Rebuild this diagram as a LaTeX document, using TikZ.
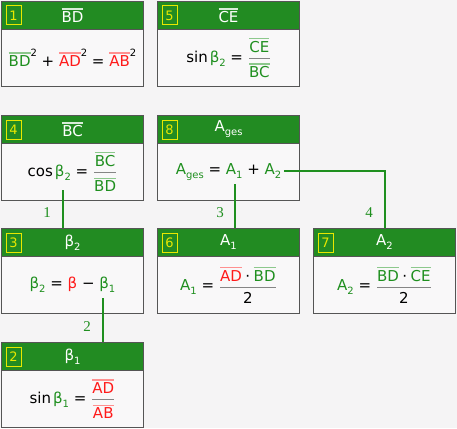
\documentclass[tikz,border=0pt]{standalone}
\usepackage{fontspec}
\setmainfont{DejaVu Sans}
\newfontfamily\lblfont{Liberation Serif}
\usetikzlibrary{calc}
\definecolor{bgc}{HTML}{F5F4F5}
\definecolor{bodyc}{HTML}{F9F8F9}
\definecolor{bord}{HTML}{555555}
\definecolor{hdrg}{HTML}{228B22}
\definecolor{g}{HTML}{1F8F1F}
\definecolor{r}{HTML}{FF1A1A}
\definecolor{lg}{HTML}{8CC88C}
\definecolor{lr}{HTML}{FF9090}
\definecolor{hl}{HTML}{D8ECD8}
\definecolor{barc}{HTML}{858585}
\definecolor{numc}{HTML}{E8E800}
\newcommand\ovl[2]{\begingroup\setbox0=\hbox{#2}\rlap{\textcolor{#1}{\rule[\dimexpr\ht0+2pt\relax]{\wd0}{1.4pt}}}\box0\endgroup}
\newcommand\G[1]{\ovl{lg}{\textcolor{g}{#1}}}
\newcommand\R[1]{\ovl{lr}{\textcolor{r}{#1}}}
\newcommand\sbs[1]{\raisebox{-4pt}{\fontsize{10}{10}\selectfont #1}}
\newcommand\sps[1]{\raisebox{10pt}{\fontsize{10}{10}\selectfont #1}}
\newcommand\frc[2]{\textcolor{barc}{$\displaystyle{\mbox{#1}\above1.4pt\mbox{#2}}$}}
\tikzset{
  hdrbox/.style={draw=bord, fill=hdrg, line width=1pt, minimum width=142pt, minimum height=28pt,
    anchor=north west, inner sep=0pt, text=white, font=\fontsize{15}{18}\selectfont},
  bodybox/.style={draw=bord, fill=bodyc, line width=1pt, minimum width=142pt, minimum height=57pt,
    anchor=north west, inner sep=0pt, text=black, font=\fontsize{15}{18}\selectfont},
  numbox/.style={draw=numc, line width=1pt, minimum width=15pt, minimum height=19pt, inner sep=0pt,
    text=numc, font=\fontsize{13}{13}\selectfont},
  conn/.style={draw=g, line width=2pt},
  lbl/.style={text=g, font=\lblfont\fontsize{15}{15}\selectfont, inner sep=0pt},
}
\newcommand\mkbox[5]{%
  \node[hdrbox] (h#1) at (#2,#3) {#4};
  \node[bodybox] (b#1) at (#2,#3+28) {#5};
  \node[numbox] (n#1) at ($(h#1.west)+(12.5,0)$) {#1};
}
\begin{document}
\begin{tikzpicture}[x=1pt,y=-1pt]
\fill[bgc] (0,0) rectangle (457,428);
\useasboundingbox (0,0) rectangle (457,428);
\mkbox{1}{1}{1}{\ovl{hl}{BD}}{\G{BD}\sps{2} + \R{AD}\sps{2} = \R{AB}\sps{2}}
\mkbox{5}{157}{1}{\ovl{hl}{CE}}{sin\hspace{2pt}\textcolor{g}{β\sbs{2}} = \frc{\G{CE}}{\G{BC}}}
\mkbox{4}{1}{115}{\ovl{hl}{BC}}{cos\hspace{2pt}\textcolor{g}{β\sbs{2}} = \frc{\G{BC}}{\G{BD}}}
\mkbox{8}{157}{115}{A\sbs{ges}}{\textcolor{g}{A\sbs{ges}} = \textcolor{g}{A\sbs{1}} + \textcolor{g}{A\sbs{2}}}
\mkbox{3}{1}{228}{β\sbs{2}}{\textcolor{g}{β\sbs{2}} = \textcolor{r}{β} − \textcolor{g}{β\sbs{1}}}
\mkbox{6}{157}{228}{A\sbs{1}}{\textcolor{g}{A\sbs{1}} = \frc{\R{AD}\hspace{3.5pt}\textcolor{black}{·}\hspace{3.5pt}\G{BD}}{\textcolor{black}{2}}}
\mkbox{7}{313}{228}{A\sbs{2}}{\textcolor{g}{A\sbs{2}} = \frc{\G{BD}\hspace{3.5pt}\textcolor{black}{·}\hspace{3.5pt}\G{CE}}{\textcolor{black}{2}}}
\mkbox{2}{1}{342}{β\sbs{1}}{sin\hspace{2pt}\textcolor{g}{β\sbs{1}} = \frc{\R{AD}}{\R{AB}}}
\coordinate (c1) at (63,190);
\coordinate (c2) at (103,298);
\coordinate (c3) at (235,184);
\coordinate (c4) at (284,171);
\draw[conn] (c1) -- (c1 |- h3.north);
\draw[conn] (c2) -- (c2 |- h2.north);
\draw[conn] (c3) -- (c3 |- h6.north);
\draw[conn] (c4) -| (h7.north);
\node[lbl] (l1) at (47,213) {1};
\node[lbl] (l2) at (87,327) {2};
\node[lbl] (l3) at (220,213) {3};
\node[lbl] (l4) at (369,213) {4};
\end{tikzpicture}
\end{document}
